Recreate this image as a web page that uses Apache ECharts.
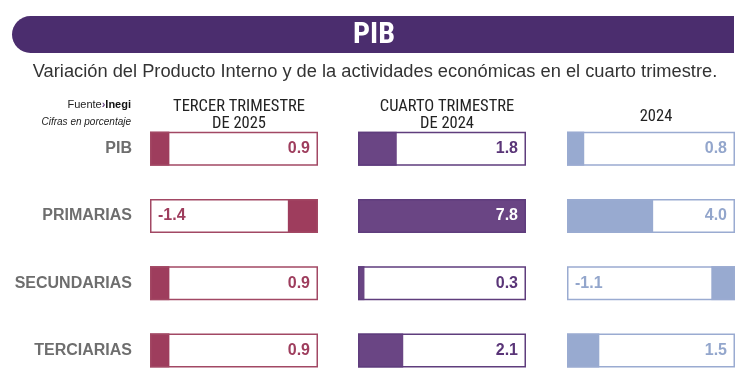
<!DOCTYPE html>
<html><head><meta charset="utf-8">
<script src="https://cdn.jsdelivr.net/npm/echarts@6/dist/echarts.min.js"></script>
<style>html,body{margin:0;padding:0;background:#fff}#c{width:750px;height:384px}</style>
</head><body><div id="c"></div>
<script>
const title = 'PIB';
const subtitle = 'Variación del Producto Interno y de la actividades económicas en el cuarto trimestre.';
const categories = ['PIB', 'PRIMARIAS', 'SECUNDARIAS', 'TERCIARIAS'];
const columnHeaders = ['TERCER TRIMESTRE\nDE 2025', 'CUARTO TRIMESTRE\nDE 2024', '2024'];
const tercer2025 = [0.9, -1.4, 0.9, 0.9];
const cuarto2024 = [1.8, 7.8, 0.3, 2.1];
const anual2024 = [0.8, 4.0, -1.1, 1.5];
const scaleMax = 7.8;

const columns = [tercer2025, cuarto2024, anual2024];
const fillColors = ['#9e3d5d', '#6a4584', '#98aad0'];
const borderColors = ['#a24864', '#5f3d7d', '#9aabd1'];
const labelColors = ['#9e3d5d', '#5a3578', '#93a6cc'];
const gridLefts = [150, 358, 567];
const boxW = 168;
const FONT = '"Liberation Sans", Arial, sans-serif';
const COND = '"Roboto Condensed", "Liberation Sans", sans-serif';

const grid = [], xAxis = [], yAxis = [], series = [], titles = [];
columns.forEach((vals, i) => {
  grid.push({left: gridLefts[i], width: boxW, top: 115, height: 271});
  xAxis.push({gridIndex: i, type: 'value', min: 0, max: scaleMax, show: false});
  xAxis.push({gridIndex: i, type: 'value', min: 0, max: scaleMax, show: false, inverse: true});
  yAxis.push({gridIndex: i, type: 'category', data: categories, inverse: true,
    axisLine: {show: false}, axisTick: {show: false},
    axisLabel: {show: i === 0, margin: 18, fontFamily: FONT, fontSize: 16, fontWeight: 'bold', color: '#6e6e6e'}});
  series.push({type: 'bar', xAxisIndex: 2 * i, yAxisIndex: i, barWidth: 34, barGap: '-100%', z: 2,
    itemStyle: {color: fillColors[i]}, data: vals.map(v => v >= 0 ? v : '-'), silent: true});
  series.push({type: 'bar', xAxisIndex: 2 * i + 1, yAxisIndex: i, barWidth: 34, barGap: '-100%', z: 2,
    itemStyle: {color: fillColors[i]}, data: vals.map(v => v < 0 ? -v : '-'), silent: true});
  series.push({type: 'bar', xAxisIndex: 2 * i, yAxisIndex: i, barWidth: 34, barGap: '-100%', z: 3, silent: true,
    itemStyle: {color: 'rgba(0,0,0,0)', borderColor: borderColors[i], borderWidth: 1.5},
    data: vals.map(v => ({
      value: scaleMax,
      label: {show: true, position: v < 0 ? 'insideLeft' : 'insideRight', distance: 8,
        formatter: v.toFixed(1), fontFamily: FONT, fontSize: 16, fontWeight: 'bold',
        color: Math.abs(v) / scaleMax > 0.8 ? '#ffffff' : labelColors[i]}
    }))});
  titles.push({text: columnHeaders[i], left: gridLefts[i] + boxW / 2, top: columnHeaders[i].includes('\n') ? 93 : 103,
    textAlign: 'center',
    textStyle: {fontFamily: COND, fontSize: 16.5, fontWeight: 'normal', color: '#222', lineHeight: 17}});
});

const chart = echarts.init(document.getElementById('c'), null, {renderer: 'canvas'});
chart.setOption({
  animation: false,
  title: titles,
  grid, xAxis, yAxis, series,
  graphic: [
    {type: 'rect', shape: {x: 12, y: 16, width: 722, height: 37, r: [18.5, 0, 0, 18.5]}, style: {fill: '#4b2d6e'}},
    {type: 'text', x: 374, y: 35, style: {text: title, fill: '#fff', font: 'bold 30px ' + COND, align: 'center', verticalAlign: 'middle'}},
    {type: 'text', x: 375, y: 72, style: {text: subtitle, fill: '#333', font: '18.3px ' + FONT, align: 'center', verticalAlign: 'middle'}},
    {type: 'text', x: 131, y: 105, style: {rich: {a: {fontFamily: FONT, fontSize: 11, fill: '#222'}, b: {fontFamily: FONT, fontSize: 11, fill: '#6a4584', fontWeight: 'bold'}, c: {fontFamily: FONT, fontSize: 11, fill: '#111', fontWeight: 'bold'}},
      text: '{a|Fuente}{b|›}{c|Inegi}', align: 'right', verticalAlign: 'middle'}},
    {type: 'text', x: 131, y: 122, style: {text: 'Cifras en porcentaje', fill: '#222', font: 'italic 10px ' + FONT, align: 'right', verticalAlign: 'middle'}}
  ]
});
</script></body></html>
